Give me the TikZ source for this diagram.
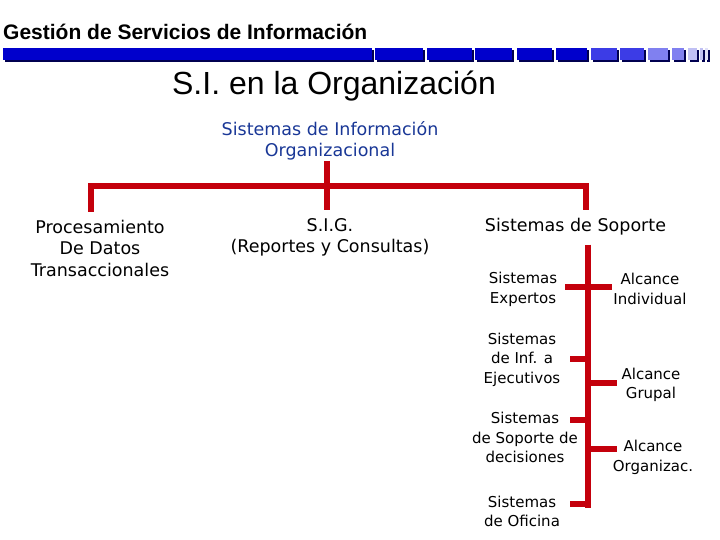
\documentclass[tikz,border=0pt]{standalone}
\usepackage{fontspec}
\setmainfont{DejaVu Sans}
\newfontfamily\arialfont{Liberation Sans}
\usetikzlibrary{positioning}
\definecolor{rojo}{HTML}{C4000C}
\definecolor{azultxt}{RGB}{25,55,150}
\definecolor{azul1}{HTML}{0000CC}
\definecolor{azul2}{HTML}{3C3CE6}
\definecolor{azul3}{HTML}{8080F0}
\definecolor{azul4}{HTML}{C0C0F4}
\definecolor{azul5}{HTML}{E0E0F8}
\definecolor{sombra}{HTML}{000050}

\begin{document}
\begin{tikzpicture}[x=1pt, y=-1pt,
	rama/.style={draw=rojo, line width=6.5pt},
	grande/.style={font=\fontsize{17.5}{21.5}\selectfont, align=center, inner sep=0pt},
	chico/.style={font=\fontsize{15}{19.5}\selectfont, align=center, inner sep=0pt}]
	\useasboundingbox (0,0) rectangle (720,540);

	\node[anchor=base west, inner sep=0pt, font=\arialfont\bfseries\fontsize{21}{24}\selectfont] (gsi) at (3,40) {Gestión de Servicios de Información};
	\foreach \a/\b/\c in {3/372/azul1, 375/423/azul1, 427/472/azul1, 475/512/azul1, 517/552/azul1, 556/587/azul1,
		591/617/azul2, 620/644/azul2, 648/668/azul3, 672/684/azul3, 688/697/azul4, 700/703/azul4, 705/708/azul5}{
		\fill[sombra] (\a+2,50) rectangle (\b+2,62);
		\fill[\c] (\a,48) rectangle (\b,60);
	}
	\node[anchor=base, inner sep=0pt, font=\arialfont\fontsize{32}{36}\selectfont] (titulo) at (334,95) {S.I. en la Organización};

	\node[grande, text=azultxt] (sio) at (330,141) {Sistemas de Información\\Organizacional};
	\node[grande] (pdt) at (100,248) {Procesamiento\\De Datos\\Transaccionales};
	\node[grande] (sig) at (330,237.5) {S.I.G.\\(Reportes y Consultas)};
	\node[grande] (sop) at (575.5,227) {Sistemas de Soporte};

	\node[chico] (exp) at (523,289.5) {Sistemas\\Expertos};
	\node[chico] (eje) at (522,359.5) {Sistemas\\de Inf. a\\Ejecutivos};
	\node[chico] (dec) at (525,437.5) {Sistemas\\de Soporte de\\decisiones};
	\node[chico] (ofi) at (522,511.5) {Sistemas\\de Oficina};
	\node[chico] (ind) at (650,289) {Alcance\\Individual};
	\node[chico] (gru) at (651,385) {Alcance\\Grupal};
	\node[chico] (org) at (653,457.5) {Alcance\\Organizac.};

	\coordinate (hub) at (327,186);
	\coordinate (izq) at (91,186);
	\coordinate (der) at (586,186);
	\draw[rama, shorten <=8pt, shorten >=8pt] (izq |- pdt.north) -- (izq) -- (der) -- (der |- sop.north);
	\draw[rama, shorten >=8pt] (hub |- sio.south) -- (hub |- sig.north);

	\coordinate (lomo) at (588,508);
	\draw[rama, shorten <=9pt] (lomo |- sop.south) -- (lomo);
	\coordinate (b1) at (565,287);
	\coordinate (b2) at (570,359);
	\coordinate (b3) at (570,420);
	\coordinate (b4) at (570,504);
	\coordinate (r1) at (612,287);
	\coordinate (r2) at (617,383);
	\coordinate (r3) at (617,449);
	\foreach \p in {b1,b2,b3,b4}
		\draw[rama] (\p) -- (\p -| lomo);
	\foreach \p in {r1,r2,r3}
		\draw[rama] (lomo |- \p) -- (\p);
\end{tikzpicture}
\end{document}
